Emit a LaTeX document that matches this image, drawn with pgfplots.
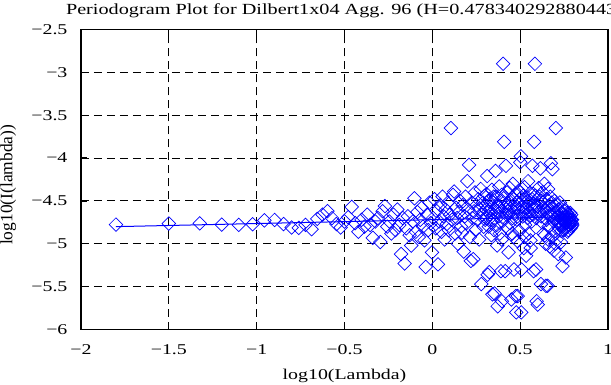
\documentclass[border=0pt]{standalone}
\usepackage{fontspec}
\setmainfont{Liberation Serif}
\usepackage{pgfplots}
\pgfplotsset{compat=1.18}
\usepackage{pgfplotstable}

\pgfplotstableread{
x y
-1.801 -4.776
-1.500 -4.764
-1.324 -4.762
-1.199 -4.776
-1.102 -4.780
-1.023 -4.772
-0.956 -4.727
-0.898 -4.722
-0.847 -4.770
-0.801 -4.810
-0.760 -4.814
-0.722 -4.780
-0.687 -4.830
-0.655 -4.710
-0.625 -4.660
-0.597 -4.620
-0.571 -4.700
-0.546 -4.770
-0.522 -4.810
-0.500 -4.740
-0.479 -4.690
-0.459 -4.570
-0.439 -4.760
-0.421 -4.860
-0.403 -4.720
-0.386 -4.800
-0.370 -4.660
-0.354 -4.780
-0.339 -4.930
-0.324 -4.740
-0.310 -4.700
-0.296 -4.980
-0.283 -4.620
-0.270 -4.560
-0.257 -4.800
-0.245 -4.740
-0.233 -4.880
-0.221 -4.660
-0.210 -4.840
-0.199 -4.600
-0.188 -4.780
-0.178 -5.120
-0.168 -4.700
-0.158 -5.230
-0.148 -4.820
-0.139 -4.680
-0.129 -4.900
-0.120 -5.020
-0.111 -4.740
-0.102 -4.470
-0.094 -4.860
-0.085 -4.630
-0.077 -4.920
-0.069 -4.720
-0.061 -4.580
-0.053 -4.800
-0.045 -4.960
-0.038 -5.270
-0.030 -4.660
-0.023 -4.840
-0.016 -4.520
-0.009 -4.760
-0.002 -5.100
0.005 -4.70
0.012 -4.48
0.019 -4.82
0.025 -4.62
0.032 -5.24
0.039 -4.74
0.045 -4.55
0.052 -4.86
0.058 -4.45
0.064 -4.68
0.070 -4.95
0.076 -4.60
0.082 -4.77
0.088 -4.52
0.094 -4.84
0.100 -4.66
0.106 -3.65
0.112 -4.72
0.118 -4.43
0.124 -4.39
0.130 -4.88
0.135 -4.58
0.141 -4.70
0.146 -5.00
0.152 -4.63
0.157 -4.50
0.163 -4.80
0.168 -4.87
0.173 -4.55
0.179 -5.09
0.184 -4.68
0.189 -4.45
0.194 -4.76
0.199 -4.27
0.204 -4.60
0.209 -4.08
0.214 -4.92
0.219 -5.20
0.224 -4.52
0.228 -4.70
0.233 -5.18
0.238 -4.62
0.243 -4.40
0.247 -4.84
0.252 -4.55
0.257 -4.72
0.261 -4.48
0.266 -4.95
0.270 -4.60
0.275 -4.36
0.279 -5.47
0.284 -4.66
0.288 -4.52
0.292 -4.80
0.297 -4.44
0.301 -4.72
0.303 -4.55
0.306 -4.70
0.309 -4.42
0.312 -4.21
0.315 -5.36
0.318 -4.63
0.321 -4.80
0.324 -5.33
0.327 -4.48
0.330 -4.66
0.333 -4.58
0.336 -4.90
0.339 -4.37
0.342 -5.59
0.345 -4.72
0.348 -4.52
0.351 -4.84
0.354 -5.58
0.357 -4.60
0.360 -4.15
0.363 -4.45
0.366 -4.78
0.369 -5.02
0.372 -5.73
0.375 -4.56
0.378 -4.68
0.381 -4.33
0.384 -4.88
0.387 -4.50
0.390 -5.32
0.393 -4.62
0.396 -5.67
0.399 -4.74
0.403 -2.90
0.406 -4.47
0.409 -3.81
0.412 -4.58
0.415 -5.32
0.419 -4.09
0.422 -4.66
0.425 -4.40
0.428 -4.82
0.431 -4.53
0.434 -5.10
0.437 -4.61
0.440 -4.35
0.443 -4.76
0.446 -4.49
0.450 -5.65
0.453 -4.57
0.456 -4.70
0.459 -4.30
0.462 -4.92
0.465 -5.30
0.468 -4.54
0.471 -4.64
0.474 -4.42
0.476 -5.61
0.478 -5.80
0.481 -4.72
0.484 -4.51
0.486 -5.61
0.489 -4.60
0.492 -4.38
0.495 -4.85
0.498 -4.48
0.501 -4.05
0.504 -3.98
0.506 -5.80
0.508 -5.30
0.511 -4.56
0.514 -4.68
0.517 -4.44
0.520 -5.05
0.522 -4.62
0.525 -4.34
0.528 -4.78
0.531 -4.52
0.534 -5.14
0.536 -4.59
0.539 -4.46
0.542 -4.70
0.545 -4.27
0.548 -4.88
0.550 -4.55
0.553 -4.63
0.556 -4.41
0.559 -4.96
0.562 -4.58
0.565 -4.74
0.568 -4.48
0.570 -4.09
0.573 -4.66
0.576 -5.32
0.578 -4.53
0.580 -3.81
0.583 -4.60
0.584 -2.90
0.587 -4.44
0.590 -5.30
0.592 -4.70
0.594 -5.67
0.597 -4.56
0.600 -5.71
0.305 -4.60
0.320 -4.50
0.335 -4.75
0.350 -4.45
0.365 -4.62
0.380 -4.57
0.395 -4.43
0.410 -4.70
0.425 -4.55
0.440 -4.64
0.455 -4.46
0.470 -4.58
0.485 -4.68
0.500 -4.40
0.515 -4.57
0.530 -4.64
0.545 -4.50
0.560 -4.67
0.575 -4.42
0.590 -4.55
0.455 -4.88
0.395 -4.95
0.525 -4.92
0.485 -4.97
0.560 -5.05
0.605 -4.35
0.610 -4.62
0.615 -4.12
0.618 -5.47
0.621 -4.50
0.625 -4.75
0.628 -4.40
0.632 -4.88
0.635 -4.58
0.638 -4.30
0.642 -4.70
0.645 -5.00
0.647 -5.49
0.650 -4.48
0.653 -4.64
0.656 -5.49
0.659 -4.36
0.662 -4.80
0.665 -4.55
0.668 -5.03
0.671 -4.45
0.675 -4.06
0.678 -4.68
0.680 -4.92
0.684 -4.13
0.687 -4.58
0.690 -4.74
0.693 -5.08
0.696 -4.50
0.700 -4.85
0.703 -3.65
0.705 -4.62
0.708 -4.95
0.711 -4.55
0.714 -4.76
0.717 -5.12
0.720 -4.60
0.723 -4.82
0.726 -4.52
0.729 -4.70
0.732 -4.98
0.735 -4.64
0.738 -4.78
0.741 -5.26
0.744 -4.58
0.747 -4.72
0.750 -4.84
0.753 -4.62
0.756 -4.76
0.760 -5.16
0.762 -4.68
0.765 -4.80
0.768 -4.64
0.771 -4.74
0.774 -4.84
0.777 -4.70
0.780 -4.78
0.783 -4.68
0.786 -4.82
0.788 -4.74
0.790 -4.66
0.792 -4.80
0.794 -4.76
0.796 -4.72
0.797 -4.78
0.720 -4.68
0.725 -4.78
0.730 -4.62
0.735 -4.85
0.740 -4.70
0.745 -4.66
0.750 -4.74
0.755 -4.70
0.760 -4.82
0.765 -4.72
0.770 -4.66
0.775 -4.78
0.780 -4.72
0.785 -4.76
0.790 -4.72
0.730 -4.75
0.740 -4.80
0.755 -4.60
0.770 -4.86
0.785 -4.64
0.610 -4.45
0.620 -4.68
0.630 -4.52
0.640 -4.60
0.650 -4.72
0.660 -4.58
0.670 -4.66
0.680 -4.52
0.690 -4.64
0.700 -4.70
0.660 -4.95
0.700 -5.00
0.640 -4.90
}\pgfdata

\begin{document}
\begin{tikzpicture}
\begin{axis}[
  at={(0,0)}, anchor=south west,
  scale only axis, width=527bp, height=300bp,
  xmin=-2, xmax=1, ymin=-6, ymax=-2.5,
  xtick={-2,-1.5,-1,-0.5,0,0.5,1},
  xticklabels={−2,−1.5,−1,−0.5,0,0.5,1},
  ytick={-6,-5.5,-5,-4.5,-4,-3.5,-3,-2.5},
  yticklabels={−6,−5.5,−5,−4.5,−4,−3.5,−3,−2.5},
  tick align=inside, major tick length=6bp,
  tick style={black, line width=1.2bp},
  axis line style={black, line width=1.6bp},
  grid=major,
  major grid style={black, line width=0.9bp, dash pattern=on 8bp off 5bp},
  xticklabel style={font=\fontsize{15}{18}\selectfont, xscale=1.33, anchor=base, inner sep=0pt, yshift=-25bp},
  yticklabel style={font=\fontsize{15}{18}\selectfont, xscale=1.33, anchor=east, inner sep=0pt, xshift=-10bp},
  xlabel={log10(Lambda)},
  xlabel style={font=\fontsize{15}{18}\selectfont, xscale=1.33, at={(axis description cs:0.5,-0.1683)}, anchor=base, inner sep=0pt},
  ylabel={log10(I(lambda))},
  ylabel style={font=\fontsize{17.5}{20}\selectfont, at={(axis description cs:-0.1537,0.482)}, rotate=0, anchor=north, inner sep=0pt},
  title={Periodogram Plot for Dilbert1x04 Agg. 96 (H=0.478340292880443)},
  title style={font=\fontsize{15.5}{18}\selectfont, xscale=1.31, at={(axis description cs:0.5,1.056)}, anchor=base, inner sep=0pt, yshift=-8bp},
]
\addplot[only marks, mark=square, mark size=4.8bp,
  mark options={rotate=45, draw=blue, line width=0.7bp, fill=none}]
  table[x=x, y=y] {\pgfdata};
\addplot[blue, line width=1bp] coordinates {(-1.801,-4.800) (0.797,-4.683)};
\end{axis}
\pgfresetboundingbox
\path[use as bounding box] (-81bp,-55.5bp) rectangle (530bp,329.5bp);
\end{tikzpicture}
\end{document}
